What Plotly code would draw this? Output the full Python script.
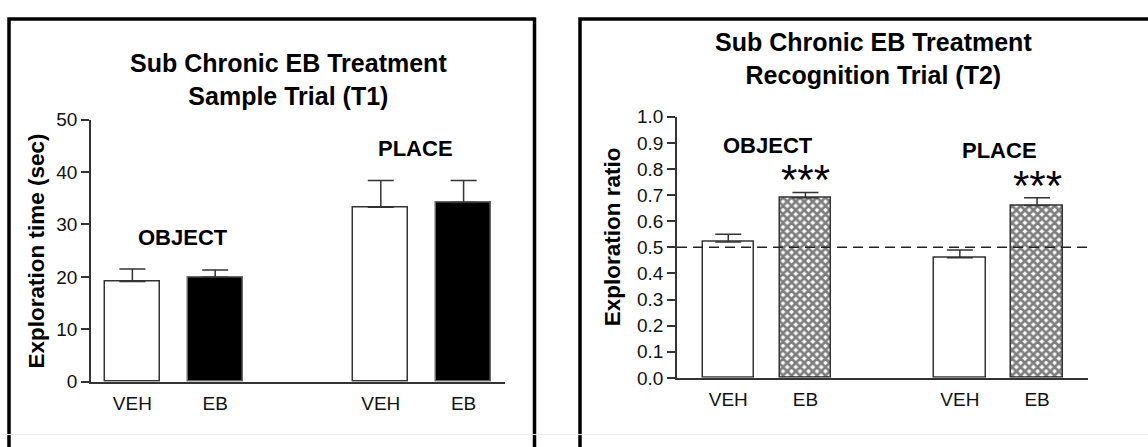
import plotly.graph_objects as go

# ---------------- data ----------------
groups = ["OBJECT", "PLACE"]
treatments = ["VEH", "EB"]
x_positions = [0, 1, 3, 4]
tick_labels = ["VEH", "EB", "VEH", "EB"]

# Sample trial (T1): exploration time (sec)
t1_veh = [19.1, 33.3]
t1_veh_err = [2.4, 5.1]
t1_eb = [19.9, 34.2]
t1_eb_err = [1.4, 4.2]

# Recognition trial (T2): exploration ratio
t2_veh = [0.52, 0.46]
t2_veh_err = [0.03, 0.03]
t2_eb = [0.69, 0.66]
t2_eb_err = [0.02, 0.03]
chance_level = 0.5
sig_marks = ["***", "***"]

W, H = 1148, 447
FONT = "Arial, 'Liberation Sans', Helvetica, sans-serif"
DARK = "#333333"


def px_x(p):
    return p / W


def px_y(p):
    return 1 - p / H


fig = go.Figure()

# --- left panel bars ---
fig.add_trace(go.Bar(
    x=[x_positions[0], x_positions[2]], y=t1_veh, width=0.665,
    marker=dict(color="white", line=dict(color=DARK, width=1.5)),
    error_y=dict(type="data", array=t1_veh_err, arrayminus=[0, 0], symmetric=False,
                 color=DARK, thickness=1.5, width=13),
    xaxis="x", yaxis="y", showlegend=False, hoverinfo="skip"))
fig.add_trace(go.Bar(
    x=[x_positions[1], x_positions[3]], y=t1_eb, width=0.665,
    marker=dict(color="black", line=dict(color="#666666", width=1.5)),
    error_y=dict(type="data", array=t1_eb_err, arrayminus=[0, 0], symmetric=False,
                 color=DARK, thickness=1.5, width=13),
    xaxis="x", yaxis="y", showlegend=False, hoverinfo="skip"))

# --- right panel bars ---
fig.add_trace(go.Bar(
    x=[x_positions[0], x_positions[2]], y=t2_veh, width=0.667,
    marker=dict(color="white", line=dict(color=DARK, width=1.5)),
    error_y=dict(type="data", array=t2_veh_err, arrayminus=[0, 0], symmetric=False,
                 color=DARK, thickness=1.5, width=13),
    xaxis="x2", yaxis="y2", showlegend=False, hoverinfo="skip"))
fig.add_trace(go.Bar(
    x=[x_positions[1], x_positions[3]], y=t2_eb, width=0.667,
    marker=dict(color="white", line=dict(color=DARK, width=1.5),
                pattern=dict(shape="x", fgcolor="#000000", bgcolor="white",
                             size=6, solidity=0.7)),
    error_y=dict(type="data", array=t2_eb_err, arrayminus=[0, 0], symmetric=False,
                 color=DARK, thickness=1.5, width=13),
    xaxis="x2", yaxis="y2", showlegend=False, hoverinfo="skip"))

axis_common = dict(showgrid=False, zeroline=False, showline=True, linecolor=DARK,
                   linewidth=1.5, tickfont=dict(family=FONT, size=19, color="#111111"))

fig.update_layout(
    width=W, height=H,
    margin=dict(l=0, r=0, t=0, b=0),
    paper_bgcolor="white", plot_bgcolor="white",
    bargap=0,
    xaxis=dict(domain=[px_x(91), px_x(505)], range=[-0.5, 4.5], anchor="y",
               tickmode="array", tickvals=x_positions, ticktext=tick_labels,
               ticks="outside", ticklen=4, tickcolor="rgba(0,0,0,0)", **axis_common),
    yaxis=dict(domain=[px_y(390), px_y(115)], range=[0, 50], anchor="x",
               tickmode="array", tickvals=[0, 10, 20, 30, 40, 50],
               ticks="outside", ticklen=8, tickwidth=1.5, tickcolor=DARK, **axis_common),
    xaxis2=dict(domain=[px_x(677), px_x(1088)], range=[-0.664, 4.66], anchor="y2",
                tickmode="array", tickvals=x_positions, ticktext=tick_labels,
                ticks="outside", ticklen=4, tickcolor="rgba(0,0,0,0)", **axis_common),
    yaxis2=dict(domain=[px_y(386), px_y(112)], range=[0, 1.0], anchor="x2",
                tickmode="array", tickvals=[i / 10 for i in range(11)],
                ticktext=[f"{i / 10:.1f}" for i in range(11)],
                ticks="outside", ticklen=8, tickwidth=1.5, tickcolor=DARK, **axis_common),
)

# chance line
fig.add_shape(type="line", xref="x2 domain", yref="y2", x0=0, x1=1,
              y0=chance_level, y1=chance_level,
              line=dict(color="#222222", width=1.5, dash="10px,6px"))

# panel borders
fig.add_shape(type="rect", xref="paper", yref="paper",
              x0=px_x(9), x1=px_x(534.5), y0=-0.05, y1=px_y(9.5),
              line=dict(color="black", width=3.5), fillcolor="rgba(0,0,0,0)", layer="above")
fig.add_shape(type="rect", xref="paper", yref="paper",
              x0=px_x(580), x1=1.05, y0=-0.05, y1=px_y(9.5),
              line=dict(color="black", width=3.5), fillcolor="rgba(0,0,0,0)", layer="above")
fig.add_shape(type="line", xref="paper", yref="paper", x0=0, x1=1,
              y0=px_y(445.5), y1=px_y(445.5), line=dict(color="#eeeeee", width=1))

bold = lambda s: dict(family=FONT, size=s, color="black")
C = dict(xanchor="center", yanchor="middle", showarrow=False)

anns = [
    # titles
    dict(x=px_x(288), y=px_y(73), xref="paper", yref="paper",
         text="<b>Sub Chronic EB Treatment<br>Sample Trial (T1)</b>",
         font=bold(25), align="center", **C),
    dict(x=px_x(873), y=px_y(51), xref="paper", yref="paper",
         text="<b>Sub Chronic EB Treatment<br>Recognition Trial (T2)</b>",
         font=bold(25), align="center", **C),
    # y titles
    dict(x=px_x(37), y=px_y(253.5), xref="paper", yref="paper",
         text="<b>Exploration time (sec)</b>", textangle=-90,
         font=bold(22.5), **C),
    dict(x=px_x(612), y=px_y(237.5), xref="paper", yref="paper",
         text="<b>Exploration ratio</b>", textangle=-90,
         font=bold(22.5), **C),
    # group labels
    dict(x=0.61, y=27.6, xref="x", yref="y", text="<b>OBJECT</b>",
         font=bold(22), **C),
    dict(x=3.42, y=44.5, xref="x", yref="y", text="<b>PLACE</b>",
         font=bold(22), **C),
    dict(x=0.51, y=0.888, xref="x2", yref="y2", text="<b>OBJECT</b>",
         font=bold(22), **C),
    dict(x=3.52, y=0.869, xref="x2", yref="y2", text="<b>PLACE</b>",
         font=bold(22), **C),
]
for i in range(2):
    anns.append(dict(x=x_positions[1 + 2 * i], y=t2_eb[i] + t2_eb_err[i],
                     xref="x2", yref="y2", text=sig_marks[i],
                     xanchor="center", yanchor="bottom", showarrow=False,
                     yshift=-13, font=dict(family=FONT, size=42, color="black")))
fig.update_layout(annotations=anns)

fig.write_html("out.html",
               config={"displayModeBar": False},
               post_script="document.body.style.margin='0';document.body.style.overflow='hidden';")
